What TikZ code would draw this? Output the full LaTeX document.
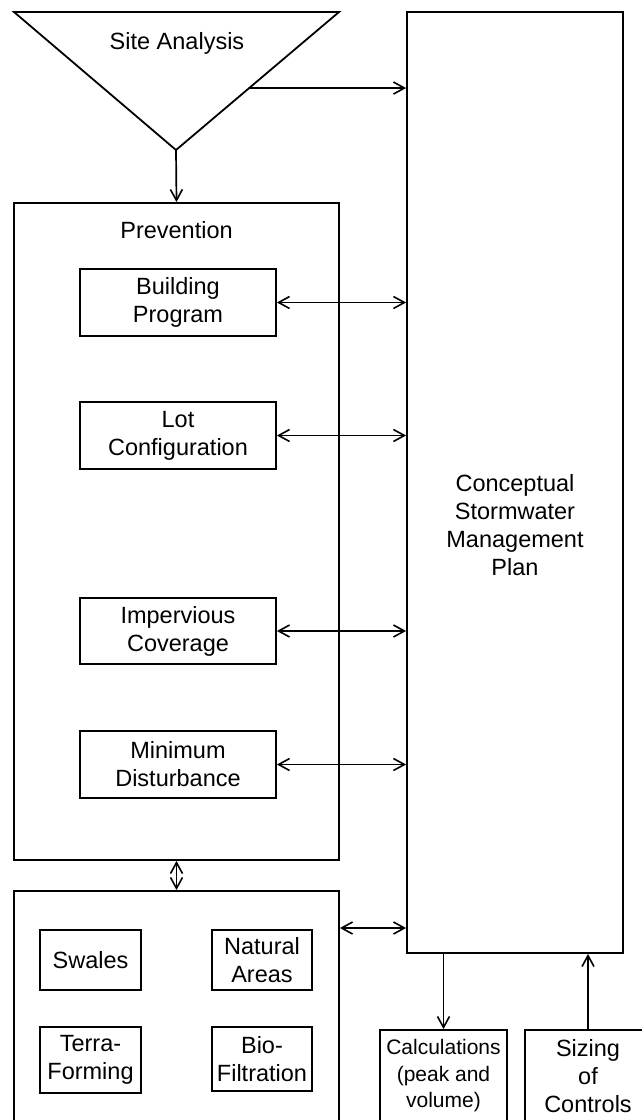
\documentclass[tikz,border=0pt]{standalone}
\usepackage{fontspec}
\setmainfont{Liberation Sans}
\usetikzlibrary{arrows.meta,calc}
\begin{document}
\begin{tikzpicture}[x=1pt,y=-1pt,
  line width=1.8pt,
  every node/.style={font=\fontsize{23.5}{28}\selectfont, align=center, inner sep=0pt},
  box/.style={draw, rectangle, minimum width=#1},
  smallfont/.style={font=\fontsize{21}{26.5}\selectfont},
  tip/.style={Straight Barb[length=11pt,width=12pt,line width=1.6pt]},
  link/.style={-{Straight Barb[length=11pt,width=12pt,line width=1.6pt]}, line width=1.7pt},
  both/.style={{Straight Barb[length=11pt,width=12pt,line width=1.6pt]}-{Straight Barb[length=11pt,width=12pt,line width=1.6pt]}, line width=1.7pt}]
\useasboundingbox (0,0) rectangle (641,1120);

% site analysis funnel
\coordinate (tl) at (14,12);
\coordinate (tr) at (339,12);
\coordinate (apex) at (176,150);
\draw (tl) -- (tr) -- (apex) -- cycle;
\node (site) at (177,43) {Site Analysis};
\coordinate (edge) at ($(tr)!0.551!(apex)$);

% conceptual plan column
\node[box=216pt, minimum height=941pt] (plan) at (515,482.5) {};
\node (planlabel) at (515,525) {Conceptual\\Stormwater\\Management\\Plan};

% prevention group
\node[box=325pt, minimum height=657pt] (prev) at (176.5,531.5) {};
\node (prevlabel) at (176.5,230) {Prevention};
\node[box=196pt, minimum height=67pt] (build) at (178,302.5) {Building\\Program};
\node[box=196pt, minimum height=67pt] (lot) at (178,435.5) {Lot\\Configuration};
\node[box=196pt, minimum height=66pt] (imperv) at (178,631) {Impervious\\Coverage};
\node[box=196pt, minimum height=67pt] (mindist) at (178,764.5) {Minimum\\Disturbance};

% controls group
\node[box=325pt, minimum height=234pt] (ctrl) at (176.5,1008) {};
\node[box=101pt, minimum height=60pt] (swales) at (90.5,960) {Swales};
\node[box=100pt, minimum height=60pt] (natural) at (262,960) {Natural\\Areas};
\node[box=101pt, minimum height=66pt] (terra) at (90.5,1060) {Terra-\\Forming};
\node[box=100pt, minimum height=64pt] (bio) at (262,1059) {Bio-\\Filtration};

% outputs
\node[box=127pt, minimum height=92pt, smallfont] (calc) at (443.5,1076) {Calculations\\(peak and\\volume)};
\node[box=126pt, minimum height=92pt] (sizing) at (588,1076) {Sizing\\of\\Controls};

% connectors
\draw[link] (edge) -- (edge -| plan.west);
\draw[link] (apex) -- (prev.north);
\draw[both] (build.east) -- (build.east -| plan.west);
\draw[both] (lot.east) -- (lot.east -| plan.west);
\draw[both] (imperv.east) -- (imperv.east -| plan.west);
\draw[both] (mindist.east) -- (mindist.east -| plan.west);
\draw[both] (prev.south) -- (ctrl.north);
\draw[both] (ctrl.east |- 0,928) -- (plan.west |- 0,928);
\draw[link] (calc.north |- plan.south) -- (calc.north);
\draw[link] (sizing.north) -- (sizing.north |- plan.south);
\end{tikzpicture}
\end{document}
